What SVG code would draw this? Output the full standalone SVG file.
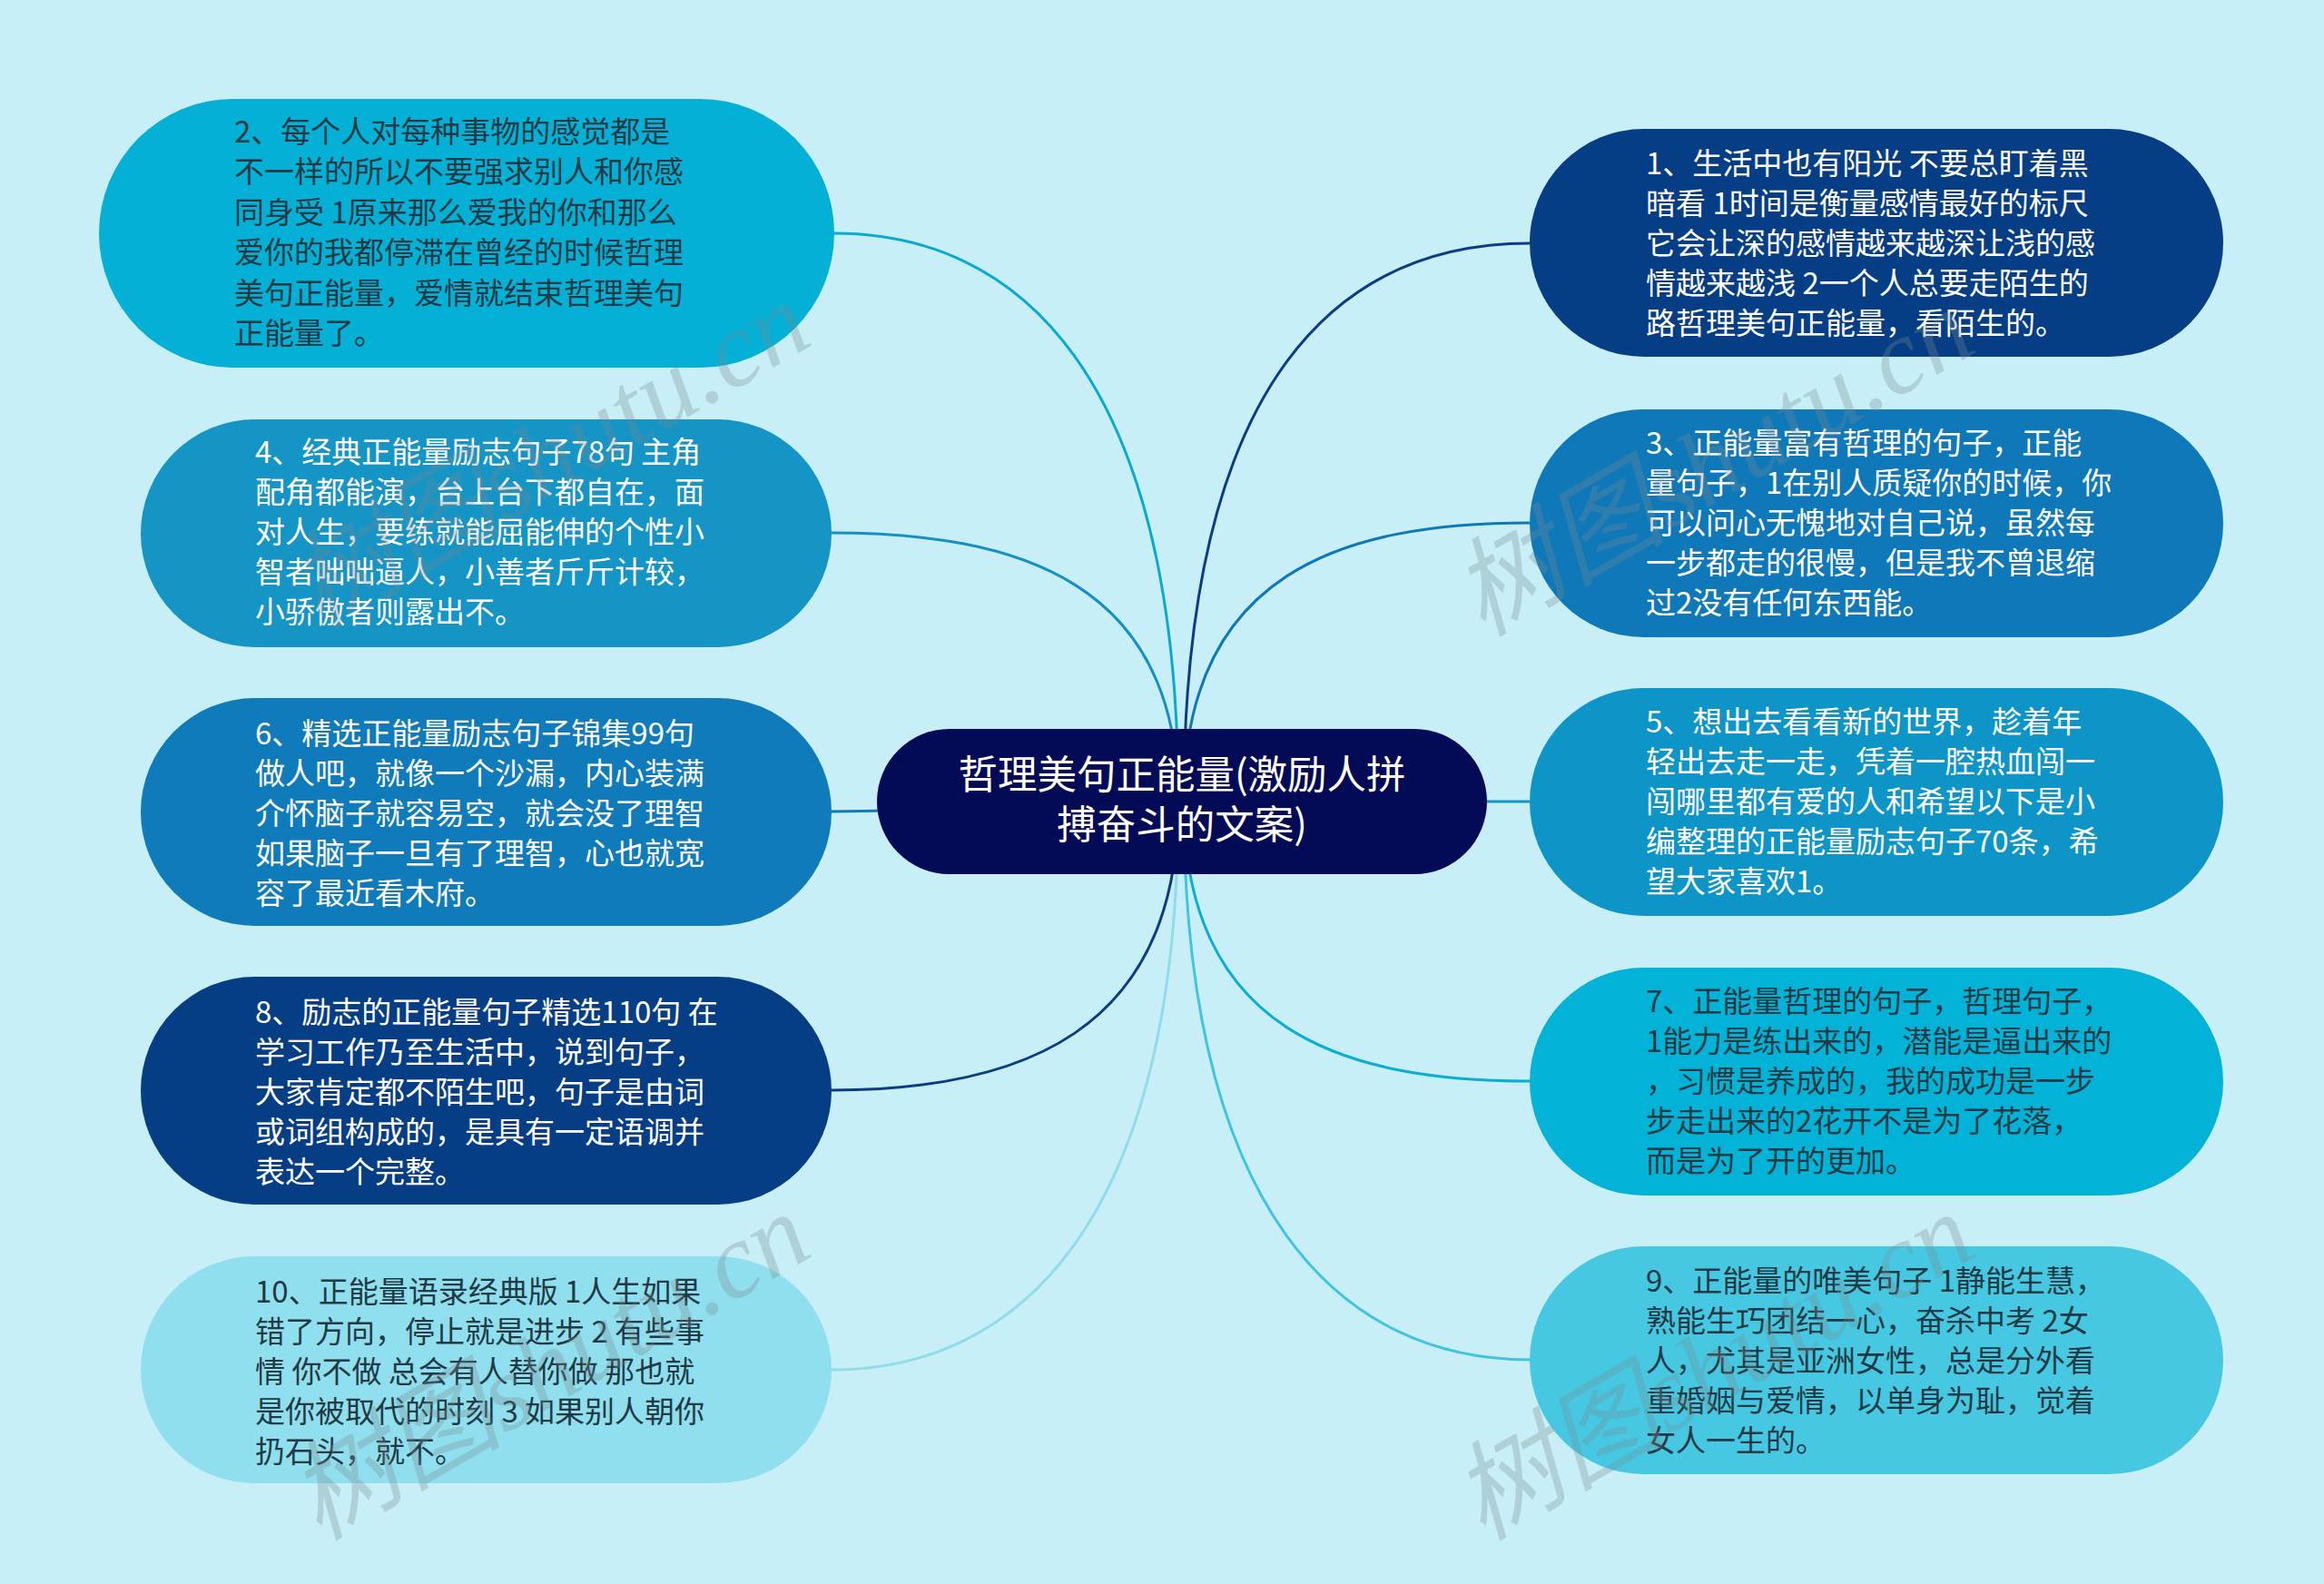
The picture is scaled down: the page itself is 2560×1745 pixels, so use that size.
<svg xmlns="http://www.w3.org/2000/svg" width="2560" height="1745" viewBox="0 0 2560 1745">
<style>
.bg{fill:#c8eff7}
.c{fill:none;stroke-width:3}
.t{font-family:"Noto Sans CJK SC","Noto Sans",sans-serif;font-size:33px}
.w{fill:#ffffff}
.d{fill:#1f3a44}
.ct{font-family:"Noto Sans CJK SC","Noto Sans",sans-serif;font-size:43.5px;fill:#ffffff;text-anchor:middle}
.wm{font-family:"Liberation Serif","Noto Sans CJK SC",serif;font-style:italic;font-size:118px;fill:#7a8a90;opacity:0.3}
</style>
<rect class="bg" x="0" y="0" width="2560" height="1745"/>
<g id="connectors">
<path class="c" stroke="#0aaad0" d="M 919 257 C 1120 257, 1298 410, 1298 883"/>
<path class="c" stroke="#1590c4" d="M 916 587 C 1120 587, 1298 640, 1298 883"/>
<path class="c" stroke="#0f7bbb" d="M 916 894 L 1302 888"/>
<path class="c" stroke="#0a3d85" d="M 916 1201 C 1120 1201, 1298 1140, 1298 883"/>
<path class="c" stroke="#8edcec" d="M 916 1509 C 1120 1509, 1298 1350, 1298 883"/>
<path class="c" stroke="#0a3d85" d="M 1685 268 C 1480 268, 1304 410, 1304 883"/>
<path class="c" stroke="#0f78b9" d="M 1685 576 C 1480 576, 1304 630, 1304 883"/>
<path class="c" stroke="#1295c7" d="M 1685 883 L 1302 883"/>
<path class="c" stroke="#0aaed2" d="M 1685 1191 C 1480 1191, 1304 1136, 1304 883"/>
<path class="c" stroke="#40c4e0" d="M 1685 1498 C 1480 1498, 1304 1340, 1304 883"/>
</g>
<g id="center">
<rect x="966" y="803" width="672" height="160" rx="80" fill="#030a56"/>
<text class="ct"><tspan x="1302" y="869">哲理美句正能量(激励人拼</tspan><tspan x="1302" y="924">搏奋斗的文案)</tspan></text>
</g>
<g id="node2">
<rect x="109" y="109" width="810" height="296" rx="148" fill="#05b0d6"/>
<text class="t d"><tspan x="258" y="157">2、每个人对每种事物的感觉都是</tspan><tspan x="258" y="201">不一样的所以不要强求别人和你感</tspan><tspan x="258" y="246">同身受 1原来那么爱我的你和那么</tspan><tspan x="258" y="290">爱你的我都停滞在曾经的时候哲理</tspan><tspan x="258" y="335">美句正能量，爱情就结束哲理美句</tspan><tspan x="258" y="379">正能量了。</tspan></text>
</g>
<g id="node4">
<rect x="155" y="462" width="761" height="251" rx="125.5" fill="#1594c6"/>
<text class="t w"><tspan x="281" y="510">4、经典正能量励志句子78句 主角</tspan><tspan x="281" y="554">配角都能演，台上台下都自在，面</tspan><tspan x="281" y="598">对人生，要练就能屈能伸的个性小</tspan><tspan x="281" y="642">智者咄咄逼人，小善者斤斤计较，</tspan><tspan x="281" y="686">小骄傲者则露出不。</tspan></text>
</g>
<g id="node6">
<rect x="155" y="769" width="761" height="251" rx="125.5" fill="#0f7bbb"/>
<text class="t w"><tspan x="281" y="820">6、精选正能量励志句子锦集99句</tspan><tspan x="281" y="864">做人吧，就像一个沙漏，内心装满</tspan><tspan x="281" y="908">介怀脑子就容易空，就会没了理智</tspan><tspan x="281" y="952">如果脑子一旦有了理智，心也就宽</tspan><tspan x="281" y="996">容了最近看木府。</tspan></text>
</g>
<g id="node8">
<rect x="155" y="1076" width="761" height="251" rx="125.5" fill="#063e86"/>
<text class="t w"><tspan x="281" y="1127">8、励志的正能量句子精选110句 在</tspan><tspan x="281" y="1171">学习工作乃至生活中，说到句子，</tspan><tspan x="281" y="1215">大家肯定都不陌生吧，句子是由词</tspan><tspan x="281" y="1259">或词组构成的，是具有一定语调并</tspan><tspan x="281" y="1303">表达一个完整。</tspan></text>
</g>
<g id="node10">
<rect x="155" y="1384" width="761" height="250" rx="125" fill="#90dfee"/>
<text class="t d"><tspan x="281" y="1435">10、正能量语录经典版 1人生如果</tspan><tspan x="281" y="1479">错了方向，停止就是进步 2 有些事</tspan><tspan x="281" y="1523">情 你不做 总会有人替你做 那也就</tspan><tspan x="281" y="1567">是你被取代的时刻 3 如果别人朝你</tspan><tspan x="281" y="1611">扔石头，就不。</tspan></text>
</g>
<g id="node1">
<rect x="1685" y="142" width="764" height="251" rx="125.5" fill="#063e86"/>
<text class="t w"><tspan x="1813" y="192">1、生活中也有阳光 不要总盯着黑</tspan><tspan x="1813" y="236">暗看 1时间是衡量感情最好的标尺</tspan><tspan x="1813" y="280">它会让深的感情越来越深让浅的感</tspan><tspan x="1813" y="324">情越来越浅 2一个人总要走陌生的</tspan><tspan x="1813" y="368">路哲理美句正能量，看陌生的。</tspan></text>
</g>
<g id="node3">
<rect x="1685" y="451" width="764" height="251" rx="125.5" fill="#0f78b9"/>
<text class="t w"><tspan x="1813" y="500">3、正能量富有哲理的句子，正能</tspan><tspan x="1813" y="544">量句子，1在别人质疑你的时候，你</tspan><tspan x="1813" y="588">可以问心无愧地对自己说，虽然每</tspan><tspan x="1813" y="632">一步都走的很慢，但是我不曾退缩</tspan><tspan x="1813" y="676">过2没有任何东西能。</tspan></text>
</g>
<g id="node5">
<rect x="1685" y="758" width="764" height="251" rx="125.5" fill="#0e95c7"/>
<text class="t w"><tspan x="1813" y="807">5、想出去看看新的世界，趁着年</tspan><tspan x="1813" y="851">轻出去走一走，凭着一腔热血闯一</tspan><tspan x="1813" y="895">闯哪里都有爱的人和希望以下是小</tspan><tspan x="1813" y="939">编整理的正能量励志句子70条，希</tspan><tspan x="1813" y="983">望大家喜欢1。</tspan></text>
</g>
<g id="node7">
<rect x="1685" y="1066" width="764" height="251" rx="125.5" fill="#02b3d7"/>
<text class="t d"><tspan x="1813" y="1115">7、正能量哲理的句子，哲理句子，</tspan><tspan x="1813" y="1159">1能力是练出来的，潜能是逼出来的</tspan><tspan x="1813" y="1203">，习惯是养成的，我的成功是一步</tspan><tspan x="1813" y="1247">步走出来的2花开不是为了花落，</tspan><tspan x="1813" y="1291">而是为了开的更加。</tspan></text>
</g>
<g id="node9">
<rect x="1685" y="1373" width="764" height="251" rx="125.5" fill="#46c8e2"/>
<text class="t d"><tspan x="1813" y="1423">9、正能量的唯美句子 1静能生慧，</tspan><tspan x="1813" y="1467">熟能生巧团结一心，奋杀中考 2女</tspan><tspan x="1813" y="1511">人，尤其是亚洲女性，总是分外看</tspan><tspan x="1813" y="1555">重婚姻与爱情，以单身为耻，觉着</tspan><tspan x="1813" y="1599">女人一生的。</tspan></text>
</g>
<g id="watermarks">
<text class="wm" transform="translate(351 694) rotate(-30)">树图shutu.cn</text>
<text class="wm" transform="translate(351 1698) rotate(-30)">树图shutu.cn</text>
<text class="wm" transform="translate(1633 702) rotate(-30)">树图shutu.cn</text>
<text class="wm" transform="translate(1633 1698) rotate(-30)">树图shutu.cn</text>
</g>
</svg>
